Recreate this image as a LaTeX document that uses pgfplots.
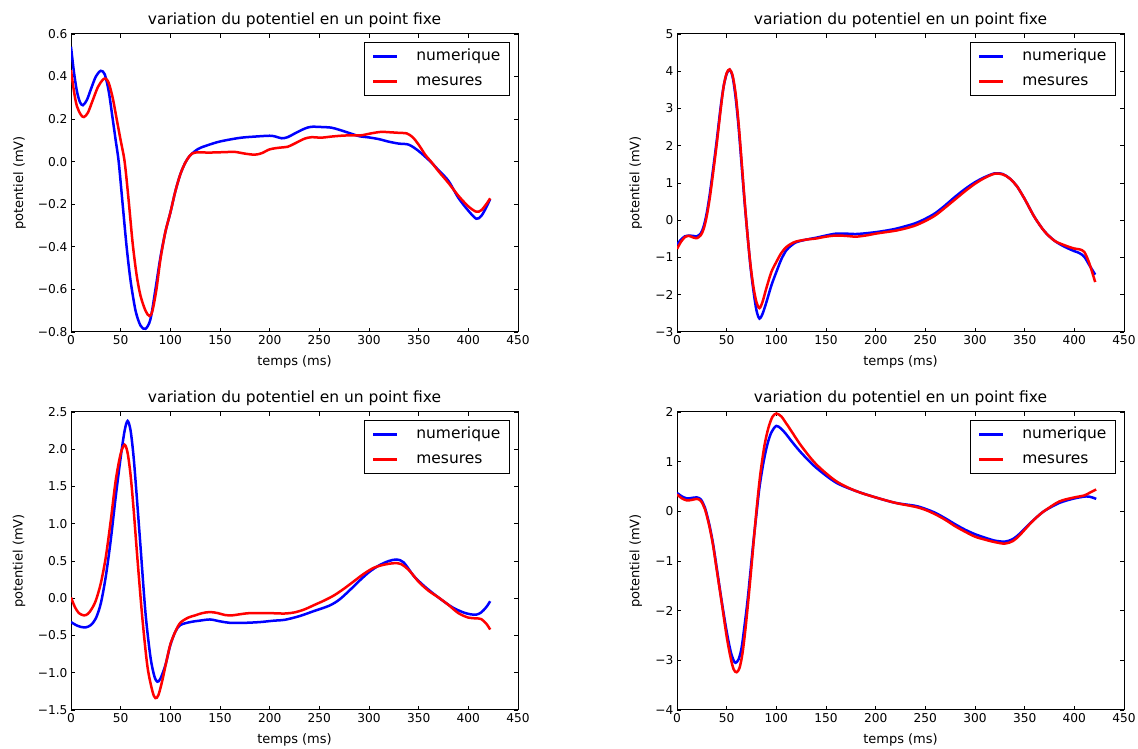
\documentclass[border=0pt]{standalone}
\usepackage{fontspec}
\setmainfont{DejaVu Sans}
\usepackage{pgfplots}
\pgfplotsset{compat=1.18}
\pgfplotsset{
 myax/.style={
  scale only axis, width=447pt, height=298pt, anchor=south west,
  xmin=0, xmax=450, xtick={0,50,...,450},
  tick align=inside, major tick length=4pt,
  axis line style={line width=1pt},
  every tick/.style={black, line width=0.8pt},
  tick label style={font=\fontsize{12.2}{14}\selectfont},
  /pgf/number format/assume math mode=true,
  title={variation du potentiel en un point fixe},
  title style={font=\fontsize{15.5}{18}\selectfont, at={(axis description cs:0.5,1)}, anchor=base, yshift=3pt},
  xlabel={temps (ms)}, ylabel={potentiel (mV)},
  label style={font=\fontsize{13}{15}\selectfont},
  xlabel style={at={(axis description cs:0.5,-0.1)}, anchor=center},
  legend style={at={(1,1)}, anchor=north east, xshift=-8pt, yshift=-8pt,
    draw=black, line width=1pt, font=\fontsize{15.5}{18}\selectfont,
    inner xsep=7pt, inner ysep=1.5pt, row sep=0pt, column sep=16pt,
    nodes={inner ysep=5.5pt, text height=11pt, text depth=3pt}},
  legend cell align=left,
  legend image code/.code={\draw[#1] (0pt,0pt) -- (24pt,0pt);},
  every axis plot/.append style={line width=2.5pt, smooth},
 }
}
\begin{document}
\begin{tikzpicture}
\useasboundingbox (0,0) rectangle (1138pt,749pt);
% ---------------- top left
\begin{axis}[myax, at={(71pt,417pt)}, ymin=-0.8, ymax=0.6,
  ytick={-0.8,-0.6,-0.4,-0.2,0,0.2,0.4,0.6},
  yticklabels={−0.8,−0.6,−0.4,−0.2,0.0,0.2,0.4,0.6},
  ylabel style={at={(axis description cs:-0.115,0.5)}, anchor=center}]
\addplot[blue] coordinates {(0,0.54)(3,0.42)(6,0.33)(9,0.28)(12,0.265)(16,0.29)(20,0.34)(25,0.40)(30,0.427)(34,0.41)(38,0.33)(42,0.2)(45,0.1)(48,0.0)(52,-0.2)(56,-0.4)(60,-0.56)(65,-0.7)(70,-0.77)(75,-0.785)(80,-0.74)(85,-0.6)(90,-0.45)(95,-0.33)(100,-0.24)(105,-0.14)(110,-0.06)(115,-0.005)(120,0.03)(128,0.06)(136,0.075)(150,0.095)(170,0.112)(185,0.118)(200,0.122)(206,0.118)(212,0.11)(218,0.115)(225,0.132)(235,0.155)(242,0.164)(252,0.163)(262,0.16)(270,0.15)(280,0.135)(290,0.12)(300,0.114)(310,0.106)(320,0.094)(330,0.085)(340,0.08)(350,0.05)(362,0.0)(370,-0.04)(380,-0.09)(390,-0.17)(400,-0.23)(408,-0.268)(413,-0.255)(418,-0.215)(422,-0.175)};
\addlegendentry{numerique}
\addplot[red] coordinates {(0,0.43)(3,0.33)(6,0.26)(10,0.22)(13,0.21)(17,0.23)(22,0.29)(27,0.35)(32,0.385)(35,0.39)(38,0.37)(42,0.3)(46,0.2)(50,0.1)(54,0.0)(58,-0.18)(62,-0.38)(66,-0.53)(70,-0.63)(75,-0.70)(79,-0.725)(82,-0.70)(86,-0.6)(90,-0.46)(95,-0.33)(100,-0.24)(105,-0.14)(110,-0.06)(115,-0.005)(120,0.03)(125,0.043)(140,0.043)(155,0.045)(165,0.046)(175,0.038)(185,0.033)(192,0.04)(200,0.058)(210,0.066)(218,0.07)(225,0.085)(235,0.108)(242,0.115)(252,0.113)(262,0.118)(272,0.122)(282,0.124)(292,0.124)(302,0.133)(312,0.14)(322,0.138)(332,0.135)(338,0.133)(344,0.115)(350,0.08)(357,0.03)(362,0.003)(370,-0.045)(380,-0.1)(390,-0.16)(400,-0.21)(408,-0.235)(413,-0.228)(418,-0.2)(422,-0.172)};
\addlegendentry{mesures}
\end{axis}
% ---------------- top right
\begin{axis}[myax, at={(677pt,417pt)}, ymin=-3, ymax=5,
  ytick={-3,-2,-1,0,1,2,3,4,5},
  yticklabels={−3,−2,−1,0,1,2,3,4,5},
  ylabel style={at={(axis description cs:-0.092,0.5)}, anchor=center}]
\addplot[blue] coordinates {(0,-0.65)(4,-0.52)(8,-0.43)(12,-0.41)(16,-0.42)(20,-0.43)(24,-0.35)(27,-0.15)(30,0.2)(33,0.7)(36,1.3)(40,2.14)(44,3.05)(47,3.6)(50,3.93)(53,4.04)(56,3.85)(59,3.3)(62,2.5)(65,1.5)(68,0.5)(71,-0.4)(74,-1.25)(77,-1.9)(80,-2.42)(83,-2.64)(86,-2.52)(90,-2.2)(95,-1.75)(100,-1.39)(105,-1.05)(110,-0.81)(115,-0.68)(120,-0.59)(130,-0.52)(140,-0.47)(150,-0.41)(160,-0.36)(170,-0.36)(180,-0.37)(190,-0.35)(200,-0.32)(210,-0.28)(220,-0.23)(230,-0.16)(240,-0.08)(250,0.04)(260,0.19)(270,0.4)(280,0.63)(290,0.84)(300,1.02)(310,1.16)(320,1.26)(328,1.24)(335,1.12)(342,0.92)(350,0.57)(360,0.08)(370,-0.3)(380,-0.55)(390,-0.71)(400,-0.83)(405,-0.88)(410,-0.98)(415,-1.2)(421,-1.46)};
\addlegendentry{numerique}
\addplot[red] coordinates {(0,-0.77)(4,-0.58)(8,-0.45)(12,-0.42)(16,-0.46)(20,-0.48)(24,-0.4)(27,-0.22)(30,0.12)(33,0.6)(36,1.2)(40,2.05)(44,2.98)(47,3.6)(50,3.95)(53,4.05)(56,3.88)(59,3.4)(62,2.6)(65,1.6)(68,0.55)(71,-0.4)(74,-1.2)(77,-1.8)(80,-2.2)(83,-2.36)(86,-2.2)(90,-1.82)(95,-1.39)(100,-1.12)(105,-0.88)(110,-0.72)(115,-0.63)(120,-0.57)(130,-0.52)(140,-0.49)(150,-0.44)(160,-0.41)(170,-0.42)(180,-0.44)(190,-0.41)(200,-0.36)(210,-0.32)(220,-0.28)(230,-0.22)(240,-0.14)(250,-0.02)(260,0.13)(270,0.34)(280,0.56)(290,0.78)(300,0.98)(310,1.14)(320,1.25)(328,1.23)(335,1.12)(342,0.92)(350,0.57)(360,0.08)(370,-0.3)(380,-0.55)(390,-0.67)(400,-0.76)(405,-0.78)(410,-0.85)(415,-1.15)(421,-1.66)};
\addlegendentry{mesures}
\end{axis}
% ---------------- bottom left
\begin{axis}[myax, at={(71pt,39pt)}, ymin=-1.5, ymax=2.5,
  ytick={-1.5,-1,-0.5,0,0.5,1,1.5,2,2.5},
  yticklabels={−1.5,−1.0,−0.5,0.0,0.5,1.0,1.5,2.0,2.5},
  ylabel style={at={(axis description cs:-0.116,0.5)}, anchor=center}]
\addplot[blue] coordinates {(0,-0.32)(5,-0.36)(10,-0.385)(15,-0.39)(20,-0.36)(25,-0.27)(30,-0.07)(35,0.29)(40,0.78)(45,1.36)(50,1.89)(54,2.25)(57,2.38)(60,2.25)(63,1.9)(66,1.4)(70,0.69)(75,-0.2)(80,-0.79)(84,-1.05)(87,-1.12)(90,-1.08)(95,-0.9)(100,-0.63)(105,-0.45)(110,-0.36)(120,-0.32)(130,-0.3)(140,-0.285)(150,-0.31)(160,-0.33)(175,-0.33)(190,-0.32)(205,-0.3)(215,-0.29)(230,-0.24)(245,-0.17)(260,-0.1)(270,-0.02)(280,0.1)(290,0.23)(300,0.35)(310,0.44)(320,0.5)(328,0.52)(335,0.48)(345,0.3)(355,0.17)(365,0.06)(375,-0.04)(385,-0.13)(395,-0.19)(402,-0.215)(408,-0.22)(413,-0.19)(418,-0.12)(422,-0.04)};
\addlegendentry{numerique}
\addplot[red] coordinates {(0,0.01)(4,-0.12)(8,-0.2)(13,-0.23)(17,-0.21)(21,-0.14)(25,-0.03)(30,0.2)(35,0.55)(40,1.04)(45,1.58)(50,1.94)(54,2.06)(57,1.95)(60,1.65)(63,1.2)(67,0.51)(72,-0.29)(77,-0.92)(82,-1.25)(85,-1.34)(88,-1.3)(92,-1.1)(96,-0.85)(100,-0.62)(105,-0.45)(110,-0.33)(118,-0.26)(125,-0.23)(132,-0.2)(140,-0.185)(148,-0.2)(155,-0.225)(162,-0.23)(170,-0.215)(180,-0.2)(200,-0.2)(215,-0.205)(225,-0.19)(235,-0.15)(245,-0.09)(255,-0.03)(265,0.04)(275,0.13)(285,0.23)(295,0.33)(305,0.41)(315,0.45)(325,0.47)(332,0.46)(340,0.38)(350,0.22)(360,0.1)(370,0.01)(380,-0.09)(390,-0.2)(400,-0.26)(408,-0.27)(413,-0.28)(418,-0.34)(422,-0.42)};
\addlegendentry{mesures}
\end{axis}
% ---------------- bottom right
\begin{axis}[myax, at={(677pt,39pt)}, ymin=-4, ymax=2,
  ytick={-4,-3,-2,-1,0,1,2},
  yticklabels={−4,−3,−2,−1,0,1,2},
  ylabel style={at={(axis description cs:-0.092,0.5)}, anchor=center}]
\addplot[blue] coordinates {(0,0.37)(5,0.3)(10,0.26)(15,0.27)(20,0.28)(24,0.24)(28,0.08)(32,-0.22)(36,-0.62)(40,-1.14)(45,-1.81)(50,-2.42)(54,-2.82)(57,-3.0)(59,-3.05)(62,-2.98)(65,-2.75)(68,-2.3)(71,-1.8)(74,-1.2)(77,-0.6)(80,-0.05)(83,0.48)(87,0.98)(91,1.35)(95,1.59)(100,1.72)(105,1.66)(110,1.55)(115,1.42)(125,1.18)(140,0.88)(160,0.58)(180,0.41)(200,0.28)(220,0.17)(240,0.11)(250,0.05)(260,-0.03)(270,-0.14)(280,-0.26)(290,-0.37)(300,-0.46)(310,-0.53)(320,-0.59)(330,-0.61)(338,-0.56)(345,-0.45)(355,-0.25)(362,-0.12)(370,0.01)(385,0.17)(400,0.26)(412,0.3)(418,0.28)(422,0.25)};
\addlegendentry{numerique}
\addplot[red] coordinates {(0,0.34)(5,0.26)(10,0.22)(15,0.23)(20,0.25)(24,0.21)(28,0.05)(32,-0.25)(36,-0.65)(40,-1.18)(45,-1.84)(50,-2.52)(54,-2.95)(57,-3.18)(60,-3.24)(63,-3.15)(66,-2.85)(69,-2.35)(72,-1.75)(75,-1.1)(78,-0.42)(81,0.22)(84,0.77)(88,1.32)(92,1.68)(96,1.9)(100,1.97)(105,1.91)(110,1.77)(115,1.62)(125,1.32)(140,0.95)(160,0.61)(180,0.41)(200,0.28)(220,0.17)(240,0.09)(250,0.03)(260,-0.06)(270,-0.17)(280,-0.3)(290,-0.41)(300,-0.51)(310,-0.57)(320,-0.62)(330,-0.65)(338,-0.6)(345,-0.48)(355,-0.26)(362,-0.12)(370,0.01)(385,0.2)(400,0.28)(410,0.32)(416,0.38)(422,0.44)};
\addlegendentry{mesures}
\end{axis}
\end{tikzpicture}
\end{document}
